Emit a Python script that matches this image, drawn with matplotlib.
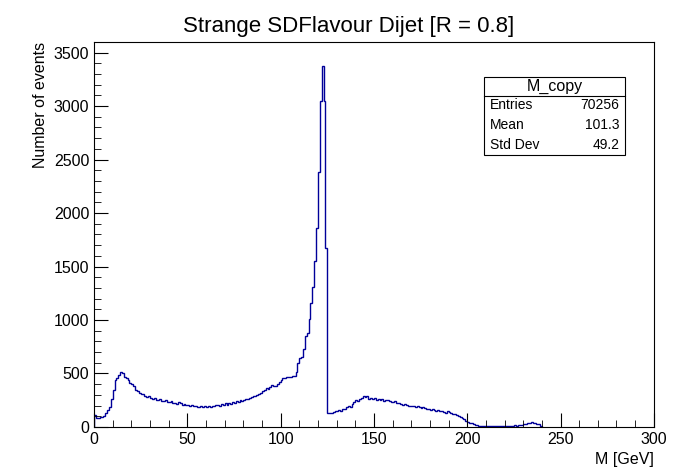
import numpy as np
import matplotlib.pyplot as plt
from matplotlib.ticker import MultipleLocator

plt.rcParams['font.family'] = ['Liberation Sans', 'DejaVu Sans']

# bin contents, 1 GeV bins starting at 0
counts = [
    110, 85, 85, 90, 90, 100, 130, 160, 190, 265,
    350, 440, 455, 485, 510, 500, 470, 455, 440, 410,
    405, 380, 345, 335, 320, 310, 305, 290, 280, 285,
    270, 265, 270, 255, 250, 260, 245, 240, 250, 235,
    230, 240, 225, 225, 215, 230, 220, 210, 215, 205,
    210, 200, 205, 195, 200, 190, 185, 195, 190, 200,
    190, 195, 185, 200, 195, 205, 210, 200, 215, 205,
    220, 210, 225, 215, 230, 225, 240, 235, 250, 245,
    255, 265, 260, 275, 280, 290, 285, 300, 310, 320,
    335, 345, 360, 355, 370, 390, 385, 380, 400, 420,
    440, 455, 460, 465, 470, 470, 475, 480, 515, 600,
    645, 655, 730, 850, 880, 1010, 1160, 1310, 1550, 1860,
    2380, 3050, 3370, 3050, 1670, 135, 130, 135, 140, 150,
    145, 160, 150, 170, 165, 185, 200, 190, 215, 230,
    250, 240, 265, 270, 285, 280, 290, 260, 275, 265,
    270, 255, 265, 250, 260, 245, 255, 250, 240, 235,
    230, 240, 225, 220, 215, 210, 215, 205, 200, 195,
    200, 195, 190, 200, 185, 180, 190, 175, 170, 165,
    160, 170, 155, 150, 160, 145, 150, 140, 135, 150,
    140, 130, 125, 120, 110, 100, 95, 80, 70, 60,
    50, 40, 35, 30, 20, 15, 12, 10, 8, 10,
    5, 8, 10, 5, 8, 10, 12, 8, 10, 10,
    12, 10, 8, 12, 10, 15, 12, 14, 18, 20,
    25, 30, 35, 40, 45, 40, 35, 30, 25, 10,
]
stats_labels = ["Entries", "Mean", "Std Dev"]
stats_values = ["70256", "101.3", "49.2"]

edges = np.arange(len(counts) + 1)

fig = plt.figure(figsize=(6.98, 4.76), dpi=100)
ax = fig.add_axes([0.1347, 0.103, 0.802, 0.809])
ax.stairs(counts, edges, color='#000099', linewidth=1.0)
ax.set_xlim(0, 300)
ax.set_ylim(0, 3600)

ax.xaxis.set_major_locator(MultipleLocator(50))
ax.xaxis.set_minor_locator(MultipleLocator(10))
ax.yaxis.set_major_locator(MultipleLocator(500))
ax.yaxis.set_minor_locator(MultipleLocator(100))
ax.tick_params(which='both', direction='in', labelsize=11.5)
ax.tick_params(which='major', length=10)
ax.tick_params(which='minor', length=5)
for s in ax.spines.values():
    s.set_linewidth(0.8)

ax.set_xlabel("M [GeV]", fontsize=11.5, loc='right')
ax.set_ylabel("Number of events", fontsize=11.5, loc='top')
fig.text(0.5, 0.945, "Strange SDFlavour Dijet [R = 0.8]", ha='center', va='center', fontsize=16)

# stats box
bx0, bx1 = 484 / 698, 625 / 698
by0, by1 = 1 - 155 / 476, 1 - 77 / 476
fig.patches.append(plt.Rectangle((bx0, by0), bx1 - bx0, by1 - by0, transform=fig.transFigure,
                                 facecolor='white', edgecolor='black', linewidth=0.8))
hdr = 1 - 96 / 476
fig.lines.append(plt.Line2D([bx0, bx1], [hdr, hdr], transform=fig.transFigure, color='black', linewidth=0.8))
fig.text((bx0 + bx1) / 2, 1 - 86 / 476, "M_copy", ha='center', va='center', fontsize=11.5)
for i, (lab, val) in enumerate(zip(stats_labels, stats_values)):
    yy = 1 - (105 + 20 * i) / 476
    fig.text(bx0 + 0.008, yy, lab, ha='left', va='center', fontsize=10)
    fig.text(bx1 - 0.008, yy, val, ha='right', va='center', fontsize=10)

fig.savefig("out.png", dpi=100)
